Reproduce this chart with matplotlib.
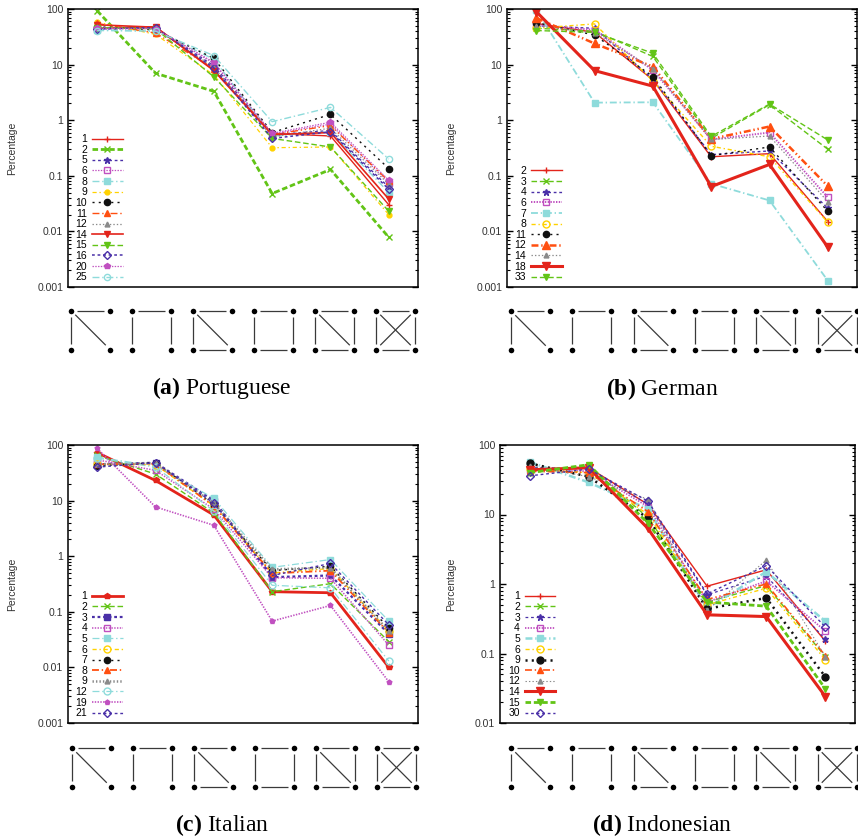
"""Frequência relativa dos grafletes de 4 nós por idioma (escala log)."""

import matplotlib

matplotlib.use("Agg")
import matplotlib.pyplot as plt
from matplotlib.ticker import FuncFormatter, LogLocator

plt.rcParams["font.family"] = ["Liberation Sans", "DejaVu Sans"]
plt.rcParams["mathtext.fontset"] = "custom"
plt.rcParams["mathtext.rm"] = "Liberation Serif"
plt.rcParams["mathtext.bf"] = "Liberation Serif:bold"
plt.rcParams["lines.scale_dashes"] = False

GRAFLETES = [1, 2, 3, 4, 5, 6]

# (a) Portuguese
PT_ROTULOS = ["1", "2", "5", "6", "8", "9", "10", "11", "12", "14", "15", "16", "20", "25"]
PT_VALORES = [
    [45, 48, 8.0, 0.58, 0.52, 0.030],
    [93, 7.0, 3.3, 0.048, 0.13, 0.0078],
    [44, 46, 9.5, 0.55, 0.65, 0.062],
    [43, 45, 10.5, 0.56, 0.85, 0.074],
    [42, 40, 12.5, 0.52, 0.62, 0.050],
    [58, 35, 6.5, 0.32, 0.33, 0.020],
    [48, 42, 13.0, 0.60, 1.27, 0.135],
    [55, 37, 8.5, 0.55, 0.80, 0.080],
    [47, 44, 9.0, 0.50, 0.72, 0.070],
    [52, 47, 7.8, 0.55, 0.60, 0.038],
    [46, 44, 6.0, 0.47, 0.33, 0.023],
    [44, 46, 8.7, 0.47, 0.62, 0.057],
    [45, 44, 11.0, 0.58, 0.92, 0.083],
    [41, 40, 14.5, 0.94, 1.70, 0.20],
]

# (b) German
DE_ROTULOS = ["2", "3", "4", "6", "7", "8", "11", "12", "14", "18", "33"]
DE_VALORES = [
    [55, 38, 5.3, 0.22, 0.25, 0.015],
    [45, 40, 14.0, 0.47, 1.90, 0.30],
    [50, 45, 5.5, 0.24, 0.28, 0.026],
    [52, 42, 8.0, 0.45, 0.60, 0.041],
    [97, 2.07, 2.1, 0.072, 0.036, 0.0013],
    [45, 54, 5.1, 0.34, 0.22, 0.0145],
    [57, 34, 6.1, 0.23, 0.33, 0.023],
    [69, 24, 9.2, 0.46, 0.77, 0.065],
    [50, 37, 8.5, 0.45, 0.52, 0.034],
    [90, 7.8, 4.1, 0.064, 0.16, 0.0052],
    [41, 38, 16.0, 0.51, 1.95, 0.44],
]

# (c) Italian
IT_ROTULOS = ["1", "2", "3", "4", "5", "6", "7", "8", "9", "12", "19", "21"]
IT_VALORES = [
    [73, 23, 5.5, 0.23, 0.22, 0.010],
    [65, 30, 6.0, 0.23, 0.32, 0.029],
    [45, 48, 10.0, 0.42, 0.45, 0.040],
    [54, 35, 7.0, 0.41, 0.40, 0.025],
    [60, 42, 11.0, 0.63, 0.87, 0.068],
    [45, 44, 8.0, 0.50, 0.60, 0.045],
    [42, 48, 8.5, 0.55, 0.66, 0.051],
    [45, 46, 8.0, 0.49, 0.55, 0.042],
    [45, 47, 9.0, 0.58, 0.62, 0.045],
    [58, 40, 6.5, 0.30, 0.27, 0.013],
    [87, 7.7, 3.6, 0.068, 0.13, 0.0055],
    [40, 48, 9.0, 0.45, 0.74, 0.058],
]

# (d) Indonesian
ID_ROTULOS = ["1", "2", "3", "4", "5", "6", "9", "10", "12", "14", "15", "30"]
ID_VALORES = [
    [44, 47, 14.0, 0.93, 1.60, 0.15],
    [40, 50, 9.0, 0.55, 0.95, 0.090],
    [48, 45, 14.0, 0.70, 1.30, 0.16],
    [43, 42, 13.0, 0.55, 1.10, 0.21],
    [57, 29, 12.0, 0.45, 1.50, 0.29],
    [45, 40, 10.0, 0.50, 0.87, 0.081],
    [54.5, 35, 8.8, 0.44, 0.63, 0.046],
    [42, 40, 11.0, 0.60, 1.00, 0.093],
    [50, 35, 16.5, 0.42, 2.20, 0.090],
    [44, 47, 6.3, 0.36, 0.34, 0.024],
    [40, 52, 7.5, 0.55, 0.48, 0.031],
    [36, 45, 15.6, 0.72, 1.84, 0.24],
]

# tipos de linha no estilo do gnuplot: cor + tracejado andam juntos
CORES = ["#e3241b", "#62c416", "#4a30a8", "#c050c0", "#8edbdb",
         "#ffd200", "#111111", "#ff4f10", "#8a8a8a"]
TRACOS = ["-", (0, (4, 2)), (0, (2, 2)), (0, (1, 1)), (0, (5, 2, 1, 2)),
          (0, (3, 2, 1, 2)), (0, (1.5, 3)), (0, (5, 2, 1, 2, 1, 2)), (0, (1, 1.5))]

# tipo de linha, marcador, preenchido, tamanho, espessura
EST_PT = [(0, "+", 1, 5, 1.0), (1, "x", 1, 5, 2.0), (2, "*", 1, 5, 1.0),
          (3, "s", 0, 4.5, 0.9), (4, "s", 1, 4.5, 1.0), (5, "o", 1, 3.5, 0.9),
          (6, "o", 1, 4.5, 1.0), (7, "^", 1, 4.5, 1.0), (8, "^", 1, 3.5, 0.9),
          (0, "v", 1, 5, 1.2), (1, "v", 1, 4, 1.0), (2, "D", 0, 4, 1.1),
          (3, "p", 1, 4, 0.9), (4, "o", 0, 4.5, 1.0)]
EST_DE = [(0, "+", 1, 5, 1.0), (1, "x", 1, 5, 1.0), (2, "*", 1, 5, 1.0),
          (3, "s", 0, 5, 1.4), (4, "s", 1, 5, 1.3), (5, "o", 0, 5, 1.0),
          (6, "o", 1, 4.5, 1.0), (7, "^", 1, 6, 1.8), (8, "^", 1, 3.5, 0.9),
          (0, "v", 1, 6, 2.2), (1, "v", 1, 4, 1.0)]
EST_IT = [(0, "p", 1, 4, 2.0), (1, "x", 1, 5, 1.0), (2, "s", 1, 5, 1.6),
          (3, "s", 0, 5, 1.1), (4, "s", 1, 5, 0.9), (5, "o", 0, 5, 1.0),
          (6, "o", 1, 4.5, 1.0), (7, "^", 1, 5, 1.3), (8, "^", 1, 3.5, 1.8),
          (4, "o", 0, 5, 0.9), (3, "p", 1, 3.5, 1.2), (2, "D", 0, 4, 1.0)]
EST_ID = [(0, "+", 1, 5, 1.0), (1, "x", 1, 5, 1.0), (2, "*", 1, 5, 0.9),
          (3, "s", 0, 5, 1.3), (4, "s", 1, 5, 1.8), (5, "o", 0, 5, 1.0),
          (6, "o", 1, 5, 1.8), (7, "^", 1, 5, 1.2), (8, "^", 1, 3.5, 0.8),
          (0, "v", 1, 6, 2.2), (1, "v", 1, 4.5, 2.0), (2, "D", 0, 4, 1.0)]

# arestas de cada graflete (cantos: 0=sup.esq, 1=sup.dir, 2=inf.esq, 3=inf.dir)
ARESTAS = [
    [(0, 1), (0, 2), (0, 3)],
    [(0, 1), (0, 2), (1, 3)],
    [(0, 1), (0, 2), (0, 3), (2, 3)],
    [(0, 1), (0, 2), (1, 3), (2, 3)],
    [(0, 1), (0, 2), (1, 3), (2, 3), (0, 3)],
    [(0, 1), (0, 2), (1, 3), (2, 3), (0, 3), (1, 2)],
]

W, H = 858, 840
fig = plt.figure(figsize=(W / 100, H / 100), dpi=100)


def px_rect(esq, topo, larg, alt):
    return [esq / W, 1 - (topo + alt) / H, larg / W, alt / H]


def painel(rect, rotulos, valores, estilos, y_min, x_rotulo):
    ax = fig.add_axes(rect)
    ax.set_yscale("log")
    for rot, vals, (tl, mk, cheio, ms, lw) in zip(rotulos, valores, estilos):
        cor = CORES[tl]
        ax.plot(GRAFLETES, vals, color=cor, ls=TRACOS[tl], lw=lw, marker=mk,
                ms=ms, mew=1.0, mfc=cor if cheio else "none", mec=cor, label=rot)
    ax.set_xlim(0.5, 6.5)
    ax.set_ylim(y_min, 100)
    ax.set_xticks([])
    ax.yaxis.set_major_locator(LogLocator(base=10, numticks=10))
    ax.yaxis.set_minor_locator(LogLocator(base=10, subs=range(2, 10), numticks=20))
    ax.yaxis.set_major_formatter(FuncFormatter(lambda v, _: f"{v:g}"))
    ax.tick_params(axis="y", which="both", direction="in", left=True, right=True,
                   labelsize=7.5, labelcolor="#333333", pad=3.5)
    ax.tick_params(axis="y", which="major", length=4, width=1.0)
    ax.tick_params(axis="y", which="minor", length=2.5, width=0.8)
    for s in ax.spines.values():
        s.set_linewidth(1.1)
    ax.set_ylabel("Percentage", fontsize=7.5, color="#333333")
    ax.yaxis.set_label_coords(x_rotulo, 0.5)
    ax.legend(loc="lower right", bbox_to_anchor=(0.156, 0.017), frameon=False,
              markerfirst=False, fontsize=7.5, handlelength=2.9, handletextpad=0.5,
              labelspacing=0.06, borderpad=0, borderaxespad=0)
    return ax


painel(px_rect(68, 9, 350, 278), PT_ROTULOS, PT_VALORES, EST_PT, 1e-3, -0.146)
painel(px_rect(507, 9, 350, 278), DE_ROTULOS, DE_VALORES, EST_DE, 1e-3, -0.146)
painel(px_rect(68, 445, 350, 278), IT_ROTULOS, IT_VALORES, EST_IT, 1e-3, -0.146)
painel(px_rect(500, 445, 355, 278), ID_ROTULOS, ID_VALORES, EST_ID, 1e-2, -0.124)

# camada em pixels para os ícones dos grafletes e as legendas dos painéis
base = fig.add_axes([0, 0, 1, 1], zorder=-1)
base.set_xlim(0, W)
base.set_ylim(H, 0)
base.axis("off")

LADO = 39
GAP = 6


def icones(x0, passo, topo):
    for k, arestas in enumerate(ARESTAS):
        cx = x0 + k * passo
        cantos = [(cx - LADO / 2, topo), (cx + LADO / 2, topo),
                  (cx - LADO / 2, topo + LADO), (cx + LADO / 2, topo + LADO)]
        for a, b in arestas:
            (xa, ya), (xb, yb) = cantos[a], cantos[b]
            d = ((xb - xa) ** 2 + (yb - ya) ** 2) ** 0.5
            ux, uy = (xb - xa) / d, (yb - ya) / d
            base.plot([xa + ux * GAP, xb - ux * GAP], [ya + uy * GAP, yb - uy * GAP],
                      color="#3a3a3a", lw=0.9, solid_capstyle="butt")
        base.plot([c[0] for c in cantos], [c[1] for c in cantos], "o", color="black",
                  ms=4, mew=0)


icones(90.5, 61, 310.5)
icones(530.5, 61.3, 311)
icones(91.5, 61, 748)
icones(530.5, 61.3, 748)

for (cx, cy), txt in zip([(222, 388), (662, 389), (222, 825), (662, 825)],
                         [r"$\mathbf{(a)}$ Portuguese", r"$\mathbf{(b)}$ German",
                          r"$\mathbf{(c)}$ Italian", r"$\mathbf{(d)}$ Indonesian"]):
    base.text(cx, cy, txt, ha="center", va="center", fontsize=17,
              family="Liberation Serif")

fig.savefig("out.png", dpi=100)
